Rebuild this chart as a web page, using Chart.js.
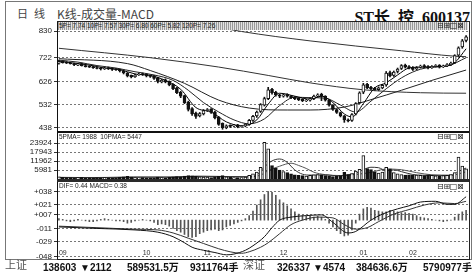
<!DOCTYPE html>
<html>
<head>
<meta charset="utf-8">
<script src="https://cdn.jsdelivr.net/npm/chart.js@4.4.1/dist/chart.umd.min.js"></script>
<style>
  html, body { margin: 0; padding: 0; background: #fff; }
  #page { position: relative; width: 473px; height: 276px; overflow: hidden; font-family: 'Liberation Sans', Arial, sans-serif; color: #111; }
  #page canvas { position: absolute; left: 0; }
  .t { position: absolute; white-space: nowrap; line-height: 1; }
  .dots { background: repeating-linear-gradient(90deg, #999 0 1px, #e2e2e2 1px 2px); }
  .small { font-size: 6.5px; color: #222; }
  .icons { position: absolute; left: 437px; font: 8px 'DejaVu Sans'; color: #222; letter-spacing: -0.3px; line-height: 1; z-index: 3; }
  .ft { position: absolute; top: 263px; font: bold 10px 'Liberation Sans', 'Noto Sans CJK SC', sans-serif; color: #111; white-space: nowrap; line-height: 1; }
  .cn { font: 11px 'Noto Sans CJK SC', sans-serif; color: #555; top: 256px; }
</style>
</head>
<body>
<div id="page">
  <!-- frames -->
  <div style="position:absolute;left:5px;top:1px;width:465px;height:257px;border:1px solid #777;"></div>
  <div style="position:absolute;left:57px;top:21px;width:411px;height:237px;border:1px solid #222;"></div>

  <!-- header -->
  <div class="t" style="left:17px;top:5px;font:11px 'Noto Sans CJK SC';color:#444;">日</div>
  <div class="t" style="left:34px;top:5px;font:11px 'Noto Sans CJK SC';color:#444;">线</div>
  <div class="t" style="left:57px;top:5px;font:12px 'Noto Sans CJK SC';color:#444;">K线-成交量-MACD</div>
  <div class="t" style="right:3px;top:4px;font:bold 16px 'Liberation Serif','Noto Sans CJK SC';color:#111;">ST长&nbsp;&nbsp;控&nbsp;&nbsp;600137</div>

  <canvas id="price" width="473" height="112" style="top:22px"></canvas>
  <canvas id="vol" width="473" height="46" style="top:133px"></canvas>
  <canvas id="macd" width="473" height="82" style="top:179px"></canvas>

  <!-- panel title rows -->
  <div class="dots" style="position:absolute;left:58px;top:22px;width:410px;height:8px;z-index:2;"></div>
  <div class="t small" style="left:59px;top:23px;z-index:3;">5P= 7.74&nbsp;10P= 7.57&nbsp;30P= 6.80&nbsp;60P= 5.82&nbsp;120P= 7.26</div>
  <div class="icons" style="top:22px;">⊟⊞□⊠</div>

  <div style="position:absolute;left:57px;top:131px;width:412px;height:2px;background:#111;z-index:2;"></div>
  <div class="t small" style="left:59px;top:134px;z-index:3;">5PMA= 1988&nbsp;&nbsp;10PMA= 5447</div>
  <div class="icons" style="top:133px;">⊟⊞□⊠</div>

  <div style="position:absolute;left:57px;top:179px;width:412px;height:3px;background:#2a2a2a;z-index:2;"></div>
  <div class="t small" style="left:59px;top:183px;z-index:3;">DIF= 0.44&nbsp;MACD= 0.38</div>
  <div class="icons" style="top:183px;">⊟⊞□⊠</div>

  <!-- footer -->
  <div class="ft cn" style="left:5px;">上证</div>
  <div class="ft" style="left:43px;">138603</div>
  <div class="ft" style="left:80px;">▼2112</div>
  <div class="ft" style="left:127px;">589531.5万</div>
  <div class="ft" style="left:190px;">9311764手</div>
  <div class="ft cn" style="left:243px;">深证</div>
  <div class="ft" style="left:277px;">326337</div>
  <div class="ft" style="left:313px;">▼4574</div>
  <div class="ft" style="left:356px;">384636.6万</div>
  <div class="ft" style="left:423px;">5790977手</div>
</div>

<script>
// 月份刻度（K线序号）
const months = ['09', '10', '11', '12', '01', '02'];
const monthIdx = [0, 22, 38, 58, 79, 92];

// 纵轴刻度
const priceTicks = [830, 722, 626, 532, 438];
const volTicks = [23924, 17943, 11962, 5981];
const macdTicks = [38, 21, 7, -11, -29, -48];
const macdTickLabels = ['+038', '+021', '+007', '-011', '-029', '-048'];

// K线数据
const open = [700,708,704,700,698,692,698,690,688,686,682,680,676,682,678,676,674,668,660,650,644,652,
  658,656,650,648,640,624,632,626,614,600,582,568,542,516,498,486,
  494,508,514,502,480,456,438,448,446,450,444,446,452,468,486,504,530,556,594,582,
  572,566,574,566,562,558,554,548,550,556,566,574,566,550,530,512,500,486,470,468,494,
  540,582,614,602,598,592,600,612,662,650,666,678,692,
  686,682,676,684,690,686,682,688,692,686,690,694,702,732,766,792];
const high = [712,710,706,702,700,698,700,692,690,688,684,682,684,684,680,678,676,670,662,652,656,660,
  660,658,652,650,642,634,636,628,616,602,586,570,546,520,502,500,
  512,516,516,506,484,458,450,450,452,452,448,456,472,488,506,536,562,602,598,586,
  574,576,576,568,564,560,556,554,560,570,576,578,568,552,532,514,502,488,474,496,540,
  584,618,618,606,602,604,614,666,668,668,680,694,696,
  690,686,686,692,694,690,690,694,694,692,698,704,734,766,796,812];
const low = [696,700,698,696,690,690,688,684,682,678,676,672,674,674,670,670,664,656,644,640,642,650,
  650,644,642,634,620,620,620,608,592,576,560,536,506,488,476,482,
  490,504,496,474,448,432,434,440,442,438,440,442,448,464,480,500,526,552,574,566,
  560,562,562,556,552,548,544,544,546,552,562,548,546,526,508,496,482,460,462,464,490,
  536,576,596,592,588,588,596,606,644,646,660,674,680,
  676,670,672,680,680,676,678,684,680,682,686,690,698,726,760,786];
const close = [706,702,700,698,694,696,690,686,684,682,678,676,680,676,674,672,668,660,648,644,652,656,
  654,648,646,638,626,630,624,612,596,580,566,540,512,494,484,496,
  508,512,500,478,452,438,446,444,448,442,446,452,468,484,502,532,556,592,580,570,
  566,572,566,560,556,552,548,550,556,566,572,566,550,530,512,500,486,470,466,492,536,
  580,612,600,596,592,600,610,660,648,664,676,690,684,
  680,674,682,688,684,680,686,690,684,688,694,700,730,762,790,806];

// 均线（序号, 数值）
const ma5 = [[0,708],[4,700],[8,692],[12,680],[16,674],[20,656],[24,650],[28,630],[32,594],[36,520],[40,502],[44,462],[48,446],[52,470],[55,534],[58,578],[62,566],[66,554],[69,566],[72,540],[75,494],[77,482],[80,536],[83,600],[86,620],[89,652],[92,680],[96,684],[100,686],[104,702],[107,758]];
const ma10 = [[0,712],[5,704],[10,690],[15,680],[20,665],[25,652],[30,630],[34,590],[38,540],[42,502],[46,470],[50,454],[54,474],[58,528],[62,562],[66,560],[70,558],[74,530],[78,502],[82,546],[86,596],[90,640],[94,670],[98,684],[102,688],[107,722]];
const ma30 = [[0,718],[18,698],[24,670],[33,618],[42,550],[50,518],[60,510],[66,510],[75,522],[82,552],[90,590],[98,630],[107,672]];
const ma60 = [[0,760],[24,722],[42,684],[55,650],[66,620],[80,592],[95,580],[107,578]];
const ma120 = [[30,880],[48,828],[66,790],[90,750],[104,728],[107,726]];

// 成交量
const volume = [1400,1100,900,1000,800,900,1100,700,700,800,1000,800,900,700,600,800,1100,1400,1800,1200,900,800,
  900,700,700,800,1200,1000,800,1100,1400,1600,1500,1900,2300,2100,1700,1500,
  1300,1100,1000,1400,1800,2300,1500,1100,900,900,1000,1300,2400,3500,4600,7800,24400,20000,9000,7200,
  6000,5000,4200,3400,2800,2500,2200,2000,2400,2800,3000,2700,2200,1800,1600,1900,2300,4500,3000,3600,5200,
  6500,15600,7000,6200,4800,4000,4600,7800,6800,4200,3400,3000,2600,
  2800,2400,2600,2500,2200,2800,2400,2100,2000,2200,2500,3000,4200,14500,8600,6800];
const volMa5 = [[0,1100],[10,900],[20,1300],[30,1300],[36,1900],[45,1600],[50,1500],[52,2600],[54,8000],[56,12000],[58,13300],[60,11000],[62,6000],[64,3200],[66,2600],[70,2700],[74,2000],[76,2900],[78,3700],[80,6200],[82,7800],[84,7500],[86,5500],[88,6000],[90,4900],[93,3000],[98,2400],[103,2400],[105,5000],[107,7300]];
const volMa10 = [[0,1000],[10,1000],[20,1200],[30,1200],[38,1700],[46,1500],[50,1400],[53,2600],[55,5500],[58,8500],[61,10500],[63,9000],[65,7000],[67,4500],[70,2900],[74,2300],[78,3000],[82,4400],[86,6600],[90,6200],[94,4200],[98,2800],[103,2500],[107,4800]];

// MACD
const macdHist = [2,1,-1,-2,-1,1,0,-1,-2,-2,-1,1,2,1,0,-1,-1,-2,-4,-3,-1,0,
  1,0,-1,-3,-6,-5,-6,-8,-11,-14,-16,-19,-22,-23,-22,-18,
  -16,-14,-13,-12,-14,-13,-9,-7,-5,-3,-1,2,6,12,20,27,34,38,37,33,
  27,23,19,15,11,8,6,5,5,4,5,4,1,-4,-9,-14,-18,-21,-20,-13,-4,
  8,15,17,16,13,12,11,11,13,12,11,10,10,
  9,8,6,4,3,2,1,0,-1,-2,-1,0,4,8,11,13];
const dif = [[0,-9],[10,-11],[20,-13],[26,-16],[30,-22],[33,-30],[35,-36],[38,-40],[41,-43],[44,-46],[46,-45],[49,-40],[51,-34],[54,-22],[56,-10],[58,0],[61,4],[65,6],[69,7],[72,-3],[76,-17],[78,-15],[82,0],[85,8],[89,15],[92,19],[95,24],[99,25],[102,21],[104,21],[107,31]];
const dea = [[0,-8],[10,-10],[20,-12],[26,-13],[30,-17],[34,-24],[38,-31],[42,-38],[45,-42],[48,-44],[50,-42],[53,-36],[55,-30],[58,-18],[61,-6],[64,0],[68,4],[72,3],[75,-6],[78,-12],[81,-10],[84,-2],[88,8],[92,14],[96,20],[100,23],[104,22],[107,25]];

const idx = close.map((c, i) => i);
const isUp = close.map((c, i) => c >= open[i]);
const tickFont = { family: 'Liberation Sans', size: 8 };

function line(pairs, color) {
  return {
    type: 'line', data: pairs.map(p => ({ x: p[0], y: p[1] })),
    borderColor: color, borderWidth: 1, pointRadius: 0,
    cubicInterpolationMode: 'monotone', fill: false, order: 1
  };
}

function xScale(show) {
  return {
    type: 'linear', min: -0.5, max: 107.5, offset: false, bounds: 'data', display: show,
    afterBuildTicks: a => { a.ticks = monthIdx.map(v => ({ value: v })); },
    afterFit: a => { a.height = 0; a.paddingLeft = 0; a.paddingRight = 0; },
    grid: { display: false }, border: { display: false },
    ticks: {
      autoSkip: false, maxRotation: 0, align: 'start', padding: 1, mirror: true,
      font: { family: 'Liberation Sans', size: 7 }, color: '#333',
      callback: v => months[monthIdx.indexOf(v)]
    }
  };
}

function yScale(ticks, labels, min, max) {
  return {
    min, max, bounds: 'data',
    afterBuildTicks: a => { a.ticks = ticks.map(v => ({ value: v })); },
    afterFit: a => { a.width = 57; a.paddingTop = 0; a.paddingBottom = 0; },
    ticks: { font: tickFont, color: '#222', padding: 2, autoSkip: false, callback: v => labels[ticks.indexOf(v)] },
    grid: { color: '#777', tickLength: 3, tickColor: '#333' },
    border: { display: true, color: '#111', dash: [2, 2] }
  };
}

function options(y, showX, padBottom) {
  return {
    responsive: false, animation: false, devicePixelRatio: 1,
    layout: { padding: { left: 0, right: 5, top: 0, bottom: padBottom } },
    plugins: { legend: { display: false }, tooltip: { enabled: false } },
    scales: { x: xScale(showX), y: y }
  };
}

// K线图
new Chart(document.getElementById('price'), {
  type: 'bar',
  data: {
    datasets: [
      {
        data: idx.map(i => ({ x: i, y: [open[i], close[i]] })),
        backgroundColor: idx.map(i => isUp[i] ? '#fff' : '#111'),
        borderColor: '#111', borderWidth: 1, borderSkipped: false,
        barThickness: 3, grouped: false, order: 0
      },
      {
        data: idx.map(i => ({ x: i, y: [low[i], high[i]] })),
        backgroundColor: '#111', barThickness: 1, grouped: false, order: 2
      },
      line(ma5, '#000'),
      line(ma10, '#222'),
      line(ma30, '#222'),
      line(ma60, '#333'),
      line(ma120, '#333')
    ]
  },
  options: options(yScale(priceTicks, priceTicks.map(String), 425, 866.5), false, 3)
});

// 成交量
new Chart(document.getElementById('vol'), {
  type: 'bar',
  data: {
    datasets: [
      {
        data: idx.map(i => ({ x: i, y: volume[i] })),
        backgroundColor: idx.map(i => isUp[i] ? '#fff' : '#111'),
        borderColor: '#111', borderWidth: 1, barThickness: 3, grouped: false, order: 0
      },
      line(volMa5, '#333'),
      line(volMa10, '#555')
    ]
  },
  options: options(yScale(volTicks, volTicks.map(String), 0, 30570), false, 0)
});

// MACD
new Chart(document.getElementById('macd'), {
  type: 'bar',
  data: {
    datasets: [
      {
        data: idx.map(i => ({ x: i, y: macdHist[i] })),
        backgroundColor: '#555', barThickness: 1, grouped: false, order: 2
      },
      line(dif, '#111'),
      line(dea, '#333')
    ]
  },
  options: options(yScale(macdTicks, macdTickLabels, -50.25, 54.6), true, 3)
});
</script>
</body>
</html>
